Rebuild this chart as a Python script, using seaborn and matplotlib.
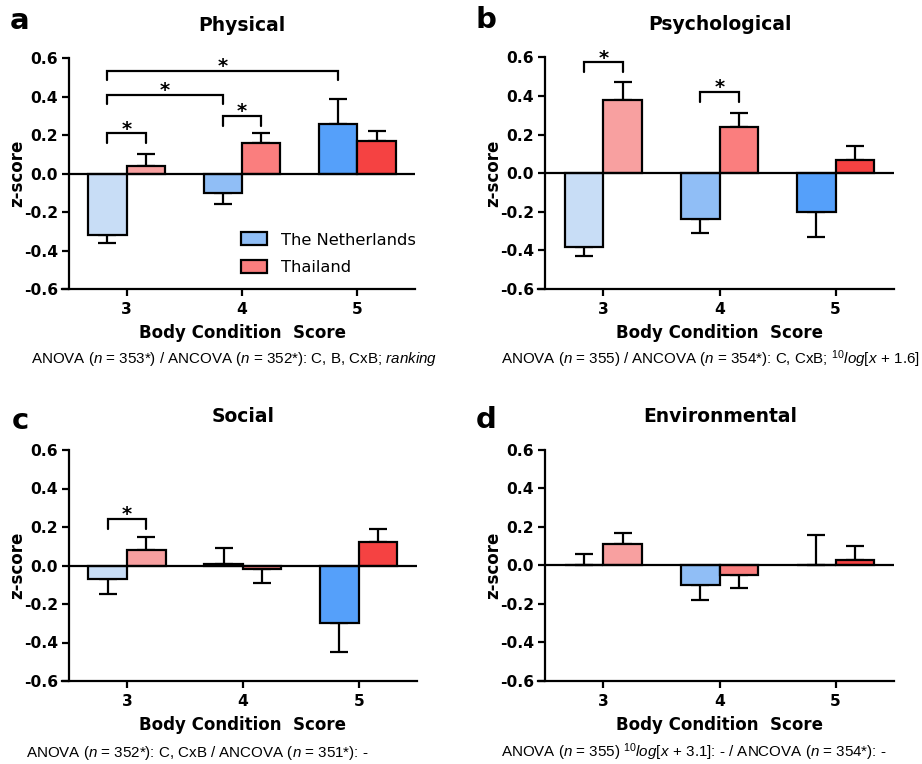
import numpy as np
import pandas as pd
import matplotlib
matplotlib.use("Agg")
import matplotlib.pyplot as plt
import seaborn as sns
from matplotlib.patches import Patch
from matplotlib.ticker import FixedLocator, FuncFormatter

# ---------------- data ----------------
categories = ["3", "4", "5"]
countries = ["The Netherlands", "Thailand"]

physical_nl = [-0.32, -0.10, 0.26]
physical_nl_sem = [0.04, 0.06, 0.13]
physical_th = [0.04, 0.16, 0.17]
physical_th_sem = [0.06, 0.05, 0.05]

psych_nl = [-0.38, -0.24, -0.20]
psych_nl_sem = [0.05, 0.07, 0.13]
psych_th = [0.38, 0.24, 0.07]
psych_th_sem = [0.09, 0.07, 0.07]

social_nl = [-0.07, 0.01, -0.30]
social_nl_sem = [0.08, 0.08, 0.15]
social_th = [0.08, -0.02, 0.12]
social_th_sem = [0.07, 0.07, 0.07]

env_nl = [0.00, -0.10, 0.00]
env_nl_sem = [0.06, 0.08, 0.16]
env_th = [0.11, -0.05, 0.03]
env_th_sem = [0.06, 0.07, 0.07]

# significance brackets: ((hue, category), (hue, category), height)
physical_brackets = [((0, 0), (1, 0), 0.21), ((0, 0), (0, 1), 0.41),
                     ((0, 1), (1, 1), 0.30), ((0, 0), (0, 2), 0.535)]
psych_brackets = [((0, 0), (1, 0), 0.575), ((0, 1), (1, 1), 0.42)]
social_brackets = [((0, 0), (1, 0), 0.242)]
env_brackets = []

yticks = [-0.6, -0.4, -0.2, 0.0, 0.2, 0.4, 0.6]

nl_colors = ["#C8DDF6", "#90BEF6", "#55A0FA"]
th_colors = ["#F8A0A0", "#FA7E7E", "#F54242"]
legend_colors = ["#90BEF6", "#FA7E7E"]

# ---------------- style ----------------
sns.set_theme(style="ticks")
plt.rcParams["font.family"] = ["DejaVu Sans"]
plt.rcParams["axes.unicode_minus"] = False
plt.rcParams["text.color"] = "black"
plt.rcParams["axes.labelcolor"] = "black"
plt.rcParams["xtick.color"] = "black"
plt.rcParams["ytick.color"] = "black"
plt.rcParams["axes.edgecolor"] = "black"
plt.rcParams["mathtext.fontset"] = "custom"
plt.rcParams["mathtext.rm"] = "Liberation Sans"
plt.rcParams["mathtext.it"] = "Liberation Sans:italic"
plt.rcParams["mathtext.default"] = "it"

W, H = 922, 764
fig = plt.figure(figsize=(W / 100, H / 100), dpi=100)
LW = 1.6


def px_axes(left, right, top, bottom):
    return fig.add_axes([left / W, 1 - bottom / H, (right - left) / W, (bottom - top) / H])


def draw(ax, nl, nl_sem, th, th_sem, brackets):
    df = pd.DataFrame({
        "BCS": categories * 2,
        "Country": [countries[0]] * len(categories) + [countries[1]] * len(categories),
        "z": nl + th,
    })
    sns.barplot(data=df, x="BCS", y="z", hue="Country", order=categories,
                hue_order=countries, width=2 / 3, errorbar=None,
                edgecolor="black", linewidth=LW, ax=ax, legend=False, zorder=3)
    centers = []
    for cont, cols, vals, sems in zip(ax.containers[:2], [nl_colors, th_colors],
                                      [nl, th], [nl_sem, th_sem]):
        row = []
        for bar, c, v, s in zip(cont, cols, vals, sems):
            bar.set_facecolor(c)
            xc = bar.get_x() + bar.get_width() / 2
            row.append(xc)
            up = s if v >= 0 else 0.0
            lo = s if v < 0 else 0.0
            ax.errorbar(xc, v, yerr=[[lo], [up]], fmt="none", ecolor="black",
                        elinewidth=LW, capsize=6.5, capthick=LW, zorder=2)
        centers.append(row)
    ax.axhline(0, color="black", lw=LW, zorder=4)
    leg = 0.05
    for (h1, c1), (h2, c2), yh in brackets:
        x1, x2 = centers[h1][c1], centers[h2][c2]
        ax.plot([x1, x1, x2, x2], [yh - leg, yh, yh, yh - leg], color="black",
                lw=LW, clip_on=False, solid_joinstyle="miter", zorder=5)
        ax.annotate("*", xy=((x1 + x2) / 2, yh), xytext=(0, -1),
                    textcoords="offset points", ha="center", va="baseline",
                    fontsize=14, fontweight="bold", annotation_clip=False)
    ax.set_xlim(-0.5, 2.5)
    ax.set_ylim(-0.6, 0.6)
    ax.yaxis.set_major_locator(FixedLocator(yticks))
    ax.yaxis.set_major_formatter(FuncFormatter(lambda v, p: f"{v:.1f}" if abs(v) > 1e-9 else "0.0"))
    sns.despine(ax=ax)
    for sp in ("left", "bottom"):
        ax.spines[sp].set_linewidth(LW)
    ax.spines["bottom"].set_bounds(-0.56, 2.5)
    ax.tick_params(axis="both", direction="out", length=5, width=LW,
                   labelsize=11.2, color="black", labelcolor="black")
    ax.tick_params(axis="y", pad=3)
    ax.tick_params(axis="x", pad=4)
    for lab in ax.get_xticklabels() + ax.get_yticklabels():
        lab.set_fontweight("bold")
    ax.set_xlabel("Body Condition  Score", fontsize=12, fontweight="bold")
    ax.set_ylabel("z-score", fontsize=12, fontweight="bold")
    ax.yaxis.set_label_coords(-0.15, 0.5)
    ax.yaxis.label.set_va("center")
    ax.xaxis.set_label_coords(0.5, -0.153)
    ax.xaxis.label.set_va("top")


axA = px_axes(69, 415, 58.3, 289)
axB = px_axes(545.3, 893.7, 57.3, 289)
axC = px_axes(69, 416.7, 450, 681)
axD = px_axes(545.3, 893.7, 449.7, 681)

draw(axA, physical_nl, physical_nl_sem, physical_th, physical_th_sem, physical_brackets)
draw(axB, psych_nl, psych_nl_sem, psych_th, psych_th_sem, psych_brackets)
draw(axC, social_nl, social_nl_sem, social_th, social_th_sem, social_brackets)
draw(axD, env_nl, env_nl_sem, env_th, env_th_sem, env_brackets)

# legend in panel a
handles = [Patch(facecolor=c, edgecolor="black", linewidth=LW) for c in legend_colors]
axA.legend(handles, countries, loc="upper left",
           bbox_to_anchor=(241 / W, 1 - 232.5 / H), bbox_transform=fig.transFigure,
           frameon=False, fontsize=11.7, handlelength=1.6, handleheight=0.85,
           handletextpad=0.85, labelspacing=0.75, borderpad=0, borderaxespad=0,
           labelcolor="black")


def ftext(x, y, s, **kw):
    fig.text(x / W, 1 - y / H, s, **kw)


# titles
for x, y, s in [(242, 25.5, "Physical"), (720, 25, "Psychological"),
                (243, 417, "Social"), (720, 417, "Environmental")]:
    ftext(x, y, s, ha="center", va="center", fontsize=13.5, fontweight="bold")

# panel letters
for x, y, s in [(20, 21, "a"), (486, 20, "b"), (20, 421, "c"), (486, 420, "d")]:
    ftext(x, y, s, ha="center", va="center", fontsize=21, fontweight="bold")

# notes
note_kw = dict(ha="left", va="center", fontsize=10.9, family="Liberation Sans", color="black")
ftext(31, 359, r"ANOVA ($n$ = 353*) / ANCOVA ($n$ = 352*): C, B, CxB; $ranking$", **note_kw)
ftext(501, 359, r"ANOVA ($n$ = 355) / ANCOVA ($n$ = 354*): C, CxB; $^{10}log[x\,+\,1.6]$", **note_kw)
ftext(26, 752.5, r"ANOVA ($n$ = 352*): C, CxB / ANCOVA ($n$ = 351*): -", **note_kw)
ftext(501, 752, r"ANOVA ($n$ = 355) $^{10}log[x\,+\,3.1]$: - / ANCOVA ($n$ = 354*): -", **note_kw)

fig.savefig("out.png", dpi=100)
